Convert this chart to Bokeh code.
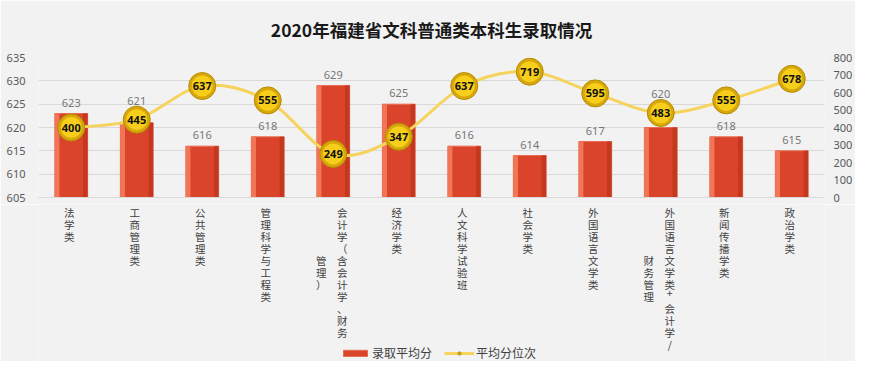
from bokeh.plotting import figure
from bokeh.layouts import column
from bokeh.core.properties import value
from bokeh.models import (Range1d, LinearAxis, FixedTicker, SingleIntervalTicker,
                          ColumnDataSource, Legend, LegendItem)
from bokeh.transform import dodge
from bokeh.embed import file_html
from bokeh.resources import INLINE

chart_title = "2020年福建省文科普通类本科生录取情况"
categories = ["法学类", "工商管理类", "公共管理类", "管理科学与工程类",
              "会计学（含会计学、财务管理）", "经济学类", "人文科学试验班", "社会学类",
              "外国语言文学类", "外国语言文学类+会计学/财务管理", "新闻传播学类", "政治学类"]
label_columns = [["法学类"], ["工商管理类"], ["公共管理类"], ["管理科学与工程类"],
                 ["会计学（含会计学、财务", "管理）"], ["经济学类"], ["人文科学试验班"], ["社会学类"],
                 ["外国语言文学类"], ["外国语言文学类+会计学/", "财务管理"], ["新闻传播学类"], ["政治学类"]]
avg_score = [623, 621, 616, 618, 629, 625, 616, 614, 617, 620, 618, 615]
avg_rank = [400, 445, 637, 555, 249, 347, 637, 719, 595, 483, 555, 678]
series_names = ["录取平均分", "平均分位次"]
score_lo, score_hi = 605, 635
rank_lo, rank_hi = 0, 800

idx = list(range(len(categories)))
FONT = "Noto Sans CJK SC"
NUMF = "Noto Sans"
BG = "#f2f2f2"
BAR = "#d9442b"
BAR_EDGE = "#e66d52"
LINE = "#f6d35c"
DOT_RIM = "#d7a70b"
DOT = "#f7ce1a"
ROW = 12.0
W = 855
LEFT, RIGHT = 38, 25
TOP, H1, BOT = 57, 204, 7
FRAME_H = H1 - TOP - BOT
PX = FRAME_H / (score_hi - score_lo)          # pixels per score unit

x_range = Range1d(-0.5, len(categories) - 0.5)

# ---------------- main chart ----------------
p = figure(width=W, height=H1, output_backend="svg", toolbar_location=None,
           x_range=x_range, y_range=Range1d(score_lo, score_hi),
           background_fill_color=BG, border_fill_color=BG,
           min_border_left=LEFT, min_border_right=RIGHT, min_border_top=TOP,
           min_border_bottom=BOT, outline_line_color=None)
p.extra_y_ranges = {"rank": Range1d(rank_lo, rank_hi)}

p.title.text = chart_title
p.title.align = "center"
p.title.vertical_align = "middle"
p.title.text_font = FONT
p.title.text_font_size = "17.5px"
p.title.text_font_style = "bold"
p.title.text_color = "#1a1a1a"
p.title.standoff = 30

p.xaxis.ticker = FixedTicker(ticks=[])
p.xaxis.major_tick_line_color = None
p.xaxis.minor_tick_line_color = None
p.xaxis.major_tick_out = 0
p.xaxis.major_label_standoff = 0
p.xaxis.axis_line_color = "#d9d9d9"

p.yaxis.ticker = SingleIntervalTicker(interval=5)
p.yaxis.major_label_text_font = NUMF
p.yaxis.major_label_text_font_size = "11px"
p.yaxis.major_label_text_color = "#595959"
p.yaxis.major_tick_line_color = None
p.yaxis.minor_tick_line_color = None
p.yaxis.major_tick_out = 0
p.yaxis.axis_line_color = None
p.yaxis.major_label_standoff = 9

ax2 = LinearAxis(y_range_name="rank", ticker=SingleIntervalTicker(interval=100),
                 major_label_text_font=NUMF, major_label_text_font_size="11px",
                 major_label_text_color="#595959", major_tick_line_color=None,
                 minor_tick_line_color=None, major_tick_out=0, axis_line_color=None,
                 major_label_standoff=5)
p.add_layout(ax2, "right")

p.xgrid.grid_line_color = None
p.ygrid.grid_line_color = "#d9d9d9"

# score-label placement: above the bar, or above the rank marker when they would collide
rank_as_score = [score_lo + r * (score_hi - score_lo) / (rank_hi - rank_lo) for r in avg_rank]
label_y = []
for s, rs in zip(avg_score, rank_as_score):
    c = s + 11 / PX
    if abs(c - rs) * PX < 20:
        c = rs + 19 / PX
    label_y.append(c)

src = ColumnDataSource(dict(x=idx, score=avg_score, rank=avg_rank, label_y=label_y,
                            score_txt=[str(v) for v in avg_score],
                            rank_txt=[str(v) for v in avg_rank]))

bars = p.vbar(x="x", top="score", bottom=score_lo, width=0.5, source=src,
              fill_color=BAR, line_color=BAR_EDGE, line_width=1)
# bevel shading of the bars
p.vbar(x=dodge("x", -0.215, range=x_range), top="score", bottom=score_lo, width=0.07,
       source=src, fill_color="#f27556", line_color=None)
p.vbar(x=dodge("x", 0.215, range=x_range), top="score", bottom=score_lo, width=0.07,
       source=src, fill_color="#c4381f", line_color=None)

# smooth curve through the rank points
n = len(avg_rank)
x0, y0, x1, y1, cx0, cy0, cx1, cy1 = ([] for _ in range(8))
for i in range(n - 1):
    im = max(i - 1, 0)
    ip = min(i + 2, n - 1)
    x0.append(idx[i]); y0.append(avg_rank[i])
    x1.append(idx[i + 1]); y1.append(avg_rank[i + 1])
    cx0.append(idx[i] + (idx[i + 1] - idx[im]) / 6)
    cy0.append(avg_rank[i] + (avg_rank[i + 1] - avg_rank[im]) / 6)
    cx1.append(idx[i + 1] - (idx[ip] - idx[i]) / 6)
    cy1.append(avg_rank[i + 1] - (avg_rank[ip] - avg_rank[i]) / 6)
p.bezier(x0=x0, y0=y0, x1=x1, y1=y1, cx0=cx0, cy0=cy0, cx1=cx1, cy1=cy1,
         line_color=LINE, line_width=3, y_range_name="rank")

p.scatter(x="x", y="rank", source=src, size=27, marker="circle",
          fill_color=DOT_RIM, line_color="#b58d06", line_width=1, y_range_name="rank")
p.scatter(x="x", y="rank", source=src, size=21, marker="circle",
          fill_color=DOT, line_color=None, y_range_name="rank")

p.text(x="x", y="label_y", text="score_txt", source=src, text_align="center",
       text_baseline="middle", text_font=value(NUMF),
       text_font_size="11px", text_color="#767676")

p.text(x="x", y="rank", text="rank_txt", source=src, y_range_name="rank",
       text_align="center", text_baseline="middle", text_font=value(NUMF),
       text_font_size="11px", text_font_style="bold", text_color="#111111")

# ---------------- category labels + legend ----------------
H2 = 361 - H1
q = figure(width=W, height=H2, output_backend="svg", toolbar_location=None,
           x_range=x_range, y_range=Range1d(H2, 0),
           x_axis_location=None, y_axis_location=None,
           background_fill_color=BG, border_fill_color=BG,
           min_border_left=LEFT, min_border_right=RIGHT, min_border_top=0, min_border_bottom=0,
           outline_line_color=None)
q.grid.grid_line_color = None

cx, cy, ct, cxo = [], [], [], []
for i, cols in zip(idx, label_columns):
    nrow = max(len(c) for c in cols)
    for j, col in enumerate(cols):
        off = (nrow - len(col)) / 2
        xo = -2 if len(cols) == 1 else (9 if j == 0 else -12)
        for k, ch in enumerate(col):
            cx.append(i); ct.append(ch); cxo.append(xo)
            cy.append(0.5 + (k + off) * ROW)
cat_src = ColumnDataSource(dict(x=cx, y=cy, t=ct, xo=cxo))
q.text(x="x", y="y", text="t", x_offset="xo", source=cat_src,
       text_align="center", text_baseline="top",
       text_font=value(FONT), text_font_size="10.5px", text_color="#404040")

# legend proxies: same data, lying outside this panel's visible range
lg_bar = q.vbar(x="x", top="score", bottom=score_lo, width=0.5, source=src,
                fill_color=BAR, line_color=BAR_EDGE)
lg_line = q.line(x="x", y="score", source=src, line_color=LINE, line_width=3)
lg_dot = q.scatter(x="x", y="score", source=src, size=7, marker="circle",
                   fill_color="#d9ad10", line_color="#b58d06")

legend = Legend(items=[LegendItem(label=series_names[0], renderers=[lg_bar]),
                       LegendItem(label=series_names[1], renderers=[lg_line, lg_dot])],
                orientation="horizontal", location=(302, 0),
                label_text_font=FONT, label_text_font_size="12px", label_text_color="#404040",
                glyph_width=30, glyph_height=8, label_standoff=2, spacing=12,
                padding=0, margin=0, background_fill_alpha=0, border_line_color=None)
q.add_layout(legend)

layout = column(p, q, spacing=0)
open("out.html", "w").write(file_html(layout, INLINE))
